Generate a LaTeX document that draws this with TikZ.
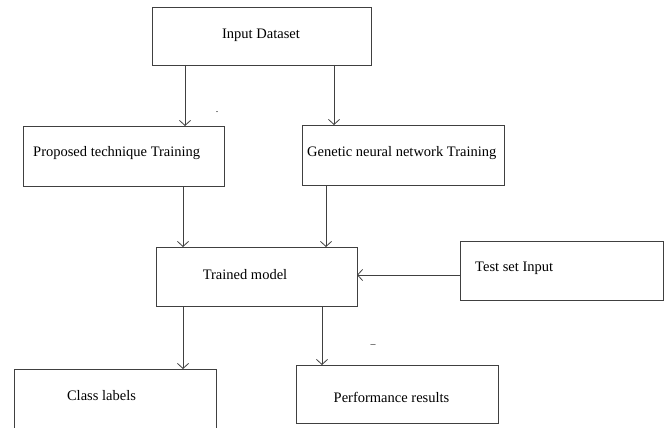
\documentclass[tikz,border=0pt]{standalone}
\usepackage{fontspec}
\setmainfont{Liberation Serif}
\usetikzlibrary{arrows.meta}
\begin{document}
\begin{tikzpicture}[x=1pt,y=-1pt,
  box/.style={draw=black!75, line width=0.9pt, inner sep=0pt, outer sep=0pt, rectangle},
  lbl/.style={inner sep=0pt, font=\fontsize{14.5}{17}\selectfont, text=black},
  arr/.style={draw=black!75, line width=0.8pt, -{Straight Barb[length=5pt,width=11pt]}},
  ln/.style={draw=black!75, line width=0.8pt}]
\useasboundingbox (0,0) rectangle (670,428);
\clip (0,0) rectangle (670,428);
\fill[white] (0,0) rectangle (670,428);
% boxes
\node[box, minimum width=219pt, minimum height=58pt] (in) at (261.5,36) {};
\node[box, minimum width=201pt, minimum height=60pt] (prop) at (123.5,156) {};
\node[box, minimum width=202pt, minimum height=60pt] (gen) at (403,155) {};
\node[box, minimum width=201pt, minimum height=59pt] (tr) at (256.5,276.5) {};
\node[box, minimum width=203pt, minimum height=59pt] (test) at (561.5,270.5) {};
\node[box, minimum width=202pt, minimum height=71pt] (cls) at (115,404.5) {};
\node[box, minimum width=202pt, minimum height=58pt] (perf) at (397,394) {};
% texts
\node[lbl] (tin) at (261,35) {Input Dataset};
\node[lbl, anchor=west] (tprop) at (33,153) {Proposed technique Training};
\node[lbl, anchor=west] (tgen) at (307,153) {Genetic neural network Training};
\node[lbl] (ttr) at (245,275) {Trained model};
\node[lbl, anchor=west] (ttest) at (475,268) {Test set Input};
\node[lbl] (tcls) at (101.5,396) {Class labels};
\node[lbl] (tperf) at (391.5,397) {Performance results};
\node[lbl, font=\fontsize{10}{12}\selectfont] (dot) at (217,112) {.};
\node[lbl, font=\fontsize{10}{12}\selectfont] (dash) at (373,346) {–};
% connector columns
\coordinate (xa) at (185,0);
\coordinate (xb) at (334,0);
\coordinate (xc) at (183,0);
\coordinate (xd) at (326,0);
\coordinate (xe) at (183,0);
\coordinate (xf) at (322,0);
\coordinate (ya) at (0,275);
% connectors
\draw[arr] (in.south -| xa) -- (prop.north -| xa);
\draw[arr] (in.south -| xb) -- (gen.north -| xb);
\draw[arr] (prop.south -| xc) -- (tr.north -| xc);
\draw[arr] (gen.south -| xd) -- (tr.north -| xd);
\draw[arr] (test.west |- ya) -- (tr.east |- ya);
\draw[arr] (tr.south -| xe) -- (cls.north -| xe);
\draw[arr] (tr.south -| xf) -- (perf.north -| xf);
\end{tikzpicture}
\end{document}
